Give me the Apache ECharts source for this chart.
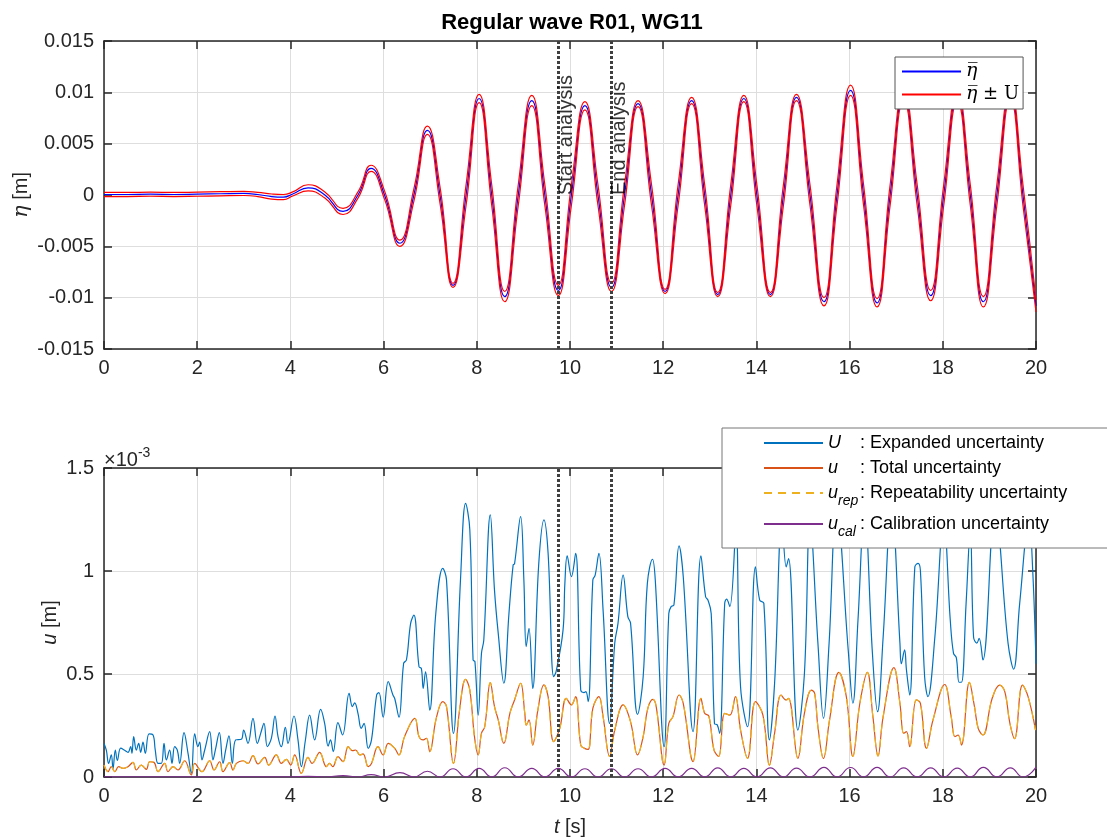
<!DOCTYPE html>
<html><head><meta charset="utf-8">
<script src="https://cdn.jsdelivr.net/npm/echarts/dist/echarts.min.js"></script>
<style>html,body{margin:0;padding:0;background:#fff}#c{width:1107px;height:840px}</style>
</head><body><div id="c"></div>
<script>
// ---------- DATA ----------
const titleText = 'Regular wave R01, WG11';
const xTicks = [0, 2, 4, 6, 8, 10, 12, 14, 16, 18, 20];
const analysisStart = 9.74;
const analysisEnd = 10.88;

// top panel: mean surface elevation [m] and half-width of the ±U band [m]
const etaTime = [0,0.5,1,1.5,2,2.5,3,3.3,3.6,3.85,4.05,4.38,4.74,5.13,5.45,5.73,6.02,6.35,6.65,6.94,7.21,7.49,7.77,8.05,8.32,8.60,8.89,9.18,9.46,9.75,10.03,10.32,10.60,10.89,11.17,11.46,11.75,12.04,12.32,12.61,12.89,13.17,13.45,13.73,14.01,14.30,14.58,14.86,15.15,15.45,15.73,16.02,16.30,16.59,16.87,17.16,17.45,17.74,18.02,18.31,18.59,18.87,19.16,19.45,19.72,20.0];
const etaMean = [0.00005,0.00005,0.00008,0.00005,0.00008,0.00012,0.00015,0.00005,-0.00015,-0.0002,0.0001,0.0007,0,-0.0016,0,0.0026,0,-0.0047,0,0.0063,0,-0.0088,0,0.0094,0,-0.0099,0,0.0092,0,-0.0093,0,0.0087,0,-0.0090,0,0.0089,0,-0.0094,0,0.0092,0,-0.0097,0,0.0094,0,-0.0097,0,0.0095,0,-0.0104,0,0.0102,0,-0.0105,0,0.0097,0,-0.0098,0,0.0096,0,-0.0104,0,0.0098,0,-0.0108];
const etaHalfBand = [0.0002,0.0002,0.0002,0.0002,0.0002,0.0002,0.0002,0.0002,0.00025,0.00025,0.0002,0.0003,0.0003,0.0003,0.0003,0.0003,0.0004,0.0003,0.0006,0.0004,0.0008,0.0002,0.001,0.0004,0.001,0.0005,0.001,0.0005,0.001,0.0005,0.001,0.0004,0.001,0.0004,0.001,0.0003,0.001,0.0002,0.001,0.0003,0.001,0.0002,0.001,0.0003,0.001,0.0002,0.001,0.0003,0.001,0.0004,0.001,0.0005,0.001,0.0004,0.001,0.0005,0.001,0.0005,0.001,0.0005,0.001,0.0005,0.001,0.0005,0.001,0.0006];

// bottom panel, values in units of 1e-3 m
const expTime = [0,0.05,0.10,0.157,0.193,0.243,0.286,0.358,0.443,0.515,0.572,0.60,0.637,0.694,0.744,0.787,0.837,0.887,0.966,1.052,1.10,1.159,1.23,1.288,1.338,1.409,1.459,1.516,1.574,1.624,1.717,1.803,1.874,1.946,2.017,2.053,2.103,2.16,2.268,2.339,2.389,2.475,2.554,2.611,2.682,2.754,2.825,2.947,2.997,3.09,3.197,3.29,3.362,3.433,3.505,3.591,3.67,3.734,3.805,3.891,3.948,4.077,4.163,4.235,4.32,4.413,4.52,4.649,4.735,4.81,4.86,4.92,5.02,5.12,5.26,5.33,5.38,5.45,5.52,5.58,5.67,5.74,5.85,5.90,5.99,6.10,6.20,6.24,6.33,6.43,6.49,6.58,6.65,6.76,6.81,6.85,6.90,6.99,7.12,7.27,7.35,7.50,7.65,7.76,7.85,7.92,7.96,8.03,8.10,8.15,8.29,8.38,8.46,8.58,8.69,8.78,8.81,8.94,9.01,9.06,9.12,9.20,9.33,9.44,9.53,9.65,9.70,9.85,9.89,9.94,10.03,10.12,10.23,10.30,10.34,10.39,10.49,10.54,10.62,10.71,10.85,10.96,11.03,11.14,11.24,11.30,11.45,11.57,11.66,11.77,11.83,12.02,12.12,12.17,12.23,12.34,12.43,12.64,12.81,12.91,12.96,13.03,13.10,13.16,13.21,13.32,13.36,13.43,13.56,13.66,13.81,13.98,14.07,14.16,14.28,14.39,14.55,14.64,14.69,14.89,15.03,15.15,15.32,15.44,15.56,15.72,15.97,16.07,16.18,16.32,16.49,16.60,16.72,16.90,17.08,17.11,17.18,17.22,17.29,17.40,17.47,17.52,17.61,17.68,17.83,18.02,18.16,18.23,18.29,18.35,18.40,18.50,18.59,18.66,18.73,18.78,18.86,19.12,19.40,19.52,19.65,19.85,19.93,20.0];
const expandedU = [0.163,0.13,0.066,0.107,0.04,0.13,0.08,0.14,0.13,0.12,0.147,0.115,0.196,0.13,0.163,0.12,0.17,0.115,0.209,0.204,0.13,0.066,0.066,0.163,0.083,0.13,0.066,0.147,0.13,0.066,0.215,0.115,0.018,0.209,0.147,0.17,0.083,0.13,0.22,0.083,0.13,0.215,0.066,0.13,0.20,0.066,0.18,0.183,0.228,0.163,0.285,0.163,0.212,0.26,0.147,0.188,0.296,0.196,0.147,0.241,0.163,0.296,0.18,0.05,0.176,0.30,0.18,0.328,0.26,0.15,0.18,0.123,0.264,0.204,0.406,0.342,0.36,0.309,0.236,0.26,0.139,0.18,0.398,0.41,0.29,0.463,0.398,0.38,0.29,0.552,0.568,0.746,0.786,0.535,0.527,0.43,0.51,0.325,0.794,1.013,0.957,0.212,0.957,1.328,1.2,0.568,0.56,0.30,0.60,0.665,1.272,0.906,0.697,0.455,0.794,1.03,1.035,1.264,0.957,0.633,0.722,0.43,1.037,1.248,1.086,0.487,0.51,0.712,0.94,1.073,0.973,1.086,0.422,0.41,0.414,0.366,0.956,0.98,1.086,0.81,0.26,0.649,0.746,0.98,0.78,0.746,0.304,0.487,0.94,1.057,0.956,0.147,0.794,0.827,0.835,1.122,0.973,0.22,1.073,0.875,0.859,0.794,0.26,0.253,0.212,0.843,0.863,0.827,1.2,0.438,0.244,1.02,0.859,0.843,0.18,0.454,1.25,1.02,1.06,0.228,0.5,1.25,0.65,0.285,0.65,1.32,0.617,0.358,0.762,1.3,0.6,0.317,0.68,1.32,0.65,0.55,0.617,0.52,0.398,1.02,1.037,1.0,0.487,0.39,0.68,1.25,0.762,0.6,0.58,0.46,0.46,0.843,1.2,0.68,0.65,0.673,0.568,1.3,0.65,0.523,0.843,1.25,1.0,0.55];

const totTime = [0,0.086,0.157,0.229,0.315,0.408,0.515,0.622,0.694,0.801,0.908,0.98,1.073,1.159,1.302,1.373,1.481,1.588,1.731,1.874,1.946,2.103,2.268,2.361,2.482,2.554,2.697,2.768,2.84,2.983,3.09,3.197,3.305,3.448,3.534,3.698,3.805,3.913,4.006,4.092,4.235,4.378,4.464,4.628,4.771,4.84,4.91,5.02,5.13,5.24,5.33,5.40,5.49,5.56,5.67,5.74,5.88,5.99,6.10,6.24,6.33,6.45,6.67,6.76,6.85,6.92,6.99,7.13,7.27,7.35,7.50,7.63,7.76,7.85,7.95,8.03,8.10,8.17,8.29,8.38,8.46,8.58,8.71,8.81,8.94,9.03,9.06,9.12,9.20,9.31,9.44,9.53,9.65,9.78,9.92,10.03,10.12,10.23,10.31,10.39,10.49,10.62,10.71,10.85,10.96,11.14,11.30,11.45,11.57,11.67,11.78,11.85,12.02,12.12,12.21,12.34,12.43,12.64,12.81,12.89,12.98,13.09,13.19,13.32,13.43,13.55,13.66,13.81,13.98,14.14,14.28,14.39,14.53,14.64,14.69,14.89,15.03,15.18,15.25,15.32,15.44,15.57,15.77,15.93,16.07,16.22,16.38,16.50,16.61,16.72,16.95,17.08,17.16,17.22,17.29,17.43,17.52,17.65,17.79,18.04,18.18,18.26,18.33,18.40,18.57,18.68,18.76,18.86,19.06,19.22,19.33,19.44,19.54,19.71,19.83,19.99];
const totalU = [0.058,0.026,0.05,0.026,0.05,0.042,0.05,0.071,0.034,0.058,0.037,0.074,0.071,0.026,0.066,0.026,0.05,0.034,0.079,0.01,0.066,0.026,0.079,0.034,0.074,0.026,0.07,0.034,0.066,0.079,0.066,0.104,0.063,0.095,0.058,0.107,0.066,0.086,0.058,0.107,0.018,0.095,0.066,0.12,0.05,0.066,0.05,0.099,0.075,0.147,0.128,0.131,0.107,0.112,0.05,0.066,0.147,0.107,0.163,0.139,0.107,0.196,0.285,0.196,0.18,0.188,0.123,0.285,0.366,0.342,0.066,0.325,0.474,0.422,0.196,0.107,0.212,0.244,0.458,0.342,0.277,0.163,0.309,0.374,0.455,0.309,0.252,0.277,0.155,0.325,0.447,0.39,0.172,0.236,0.382,0.35,0.39,0.155,0.139,0.134,0.333,0.39,0.293,0.1,0.228,0.35,0.268,0.107,0.196,0.333,0.377,0.342,0.058,0.26,0.293,0.398,0.358,0.075,0.382,0.309,0.296,0.131,0.1,0.309,0.3,0.39,0.228,0.091,0.366,0.3,0.058,0.212,0.398,0.374,0.382,0.091,0.309,0.422,0.406,0.244,0.09,0.277,0.508,0.39,0.1,0.358,0.508,0.293,0.102,0.293,0.531,0.358,0.212,0.22,0.147,0.374,0.358,0.139,0.277,0.449,0.293,0.196,0.204,0.155,0.459,0.342,0.236,0.204,0.382,0.446,0.414,0.26,0.186,0.446,0.39,0.228];
// repeatability uncertainty overlaps the total uncertainty everywhere in the picture
const repTime = totTime;
const repU = totalU;

const calTime = [0,4.0,4.38,4.74,5.13,5.45,5.73,6.02,6.35,6.65,6.94,7.21,7.49,7.77,8.05,8.32,8.60,8.89,9.18,9.46,9.75,10.03,10.32,10.60,10.89,11.17,11.46,11.75,12.04,12.32,12.61,12.89,13.17,13.45,13.73,14.01,14.30,14.58,14.86,15.15,15.45,15.73,16.02,16.30,16.59,16.87,17.16,17.45,17.74,18.02,18.31,18.59,18.87,19.16,19.45,19.72,20.0];
const calU = [0.001,0.001,0.003,0,0.007,0,0.012,0,0.021,0,0.028,0,0.04,0,0.042,0,0.045,0,0.042,0,0.042,0,0.04,0,0.04,0,0.04,0,0.042,0,0.042,0,0.044,0,0.042,0,0.044,0,0.043,0,0.047,0,0.046,0,0.047,0,0.044,0,0.044,0,0.043,0,0.047,0,0.044,0,0.048];

// ---------- CHART ----------
const FONT = "'Liberation Sans', Arial, Helvetica, sans-serif";
const SERIF = "'DejaVu Serif', 'Liberation Serif', serif";
const INK = '#262626';
const pairs = (t, v) => t.map((x, i) => [x, v[i]]);
const etaUpper = etaTime.map((x, i) => [x, etaMean[i] + etaHalfBand[i]]);
const etaLower = etaTime.map((x, i) => [x, etaMean[i] - etaHalfBand[i]]);

function xAx(gi, primary) {
  return {
    type: 'value', gridIndex: gi, min: 0, max: 20, interval: 2,
    position: primary ? 'bottom' : 'top',
    axisLine: { show: true, onZero: false, lineStyle: { color: INK, width: 1.5 } },
    axisTick: { show: true, inside: true, length: 8, lineStyle: { color: INK, width: 1.5 } },
    axisLabel: { show: primary, color: INK, fontSize: 20, fontFamily: FONT, margin: 9,
                 formatter: v => xTicks.includes(v) ? String(v) : '' },
    splitLine: { show: primary, lineStyle: { color: '#dedede', width: 1 } }
  };
}
function yAx(gi, primary, min, max, interval, fmt) {
  return {
    type: 'value', gridIndex: gi, min, max, interval,
    position: primary ? 'left' : 'right',
    axisLine: { show: true, onZero: false, lineStyle: { color: INK, width: 1.5 } },
    axisTick: { show: true, inside: true, length: 8, lineStyle: { color: INK, width: 1.5 } },
    axisLabel: { show: primary, color: INK, fontSize: 20, fontFamily: FONT, margin: 10, formatter: fmt },
    splitLine: { show: primary, lineStyle: { color: '#dedede', width: 1 } }
  };
}
const fmtEta = v => String(Math.round(v * 1000) / 1000);
const fmtU = v => String(Math.round(v * 10) / 10);

const xA = [xAx(0, true), xAx(0, false), xAx(1, true), xAx(1, false)];
xA[2].name = '{i|t} [s]';
xA[2].nameLocation = 'middle';
xA[2].nameGap = 40;
xA[2].nameMoveOverlap = false;
xA[2].nameTextStyle = { color: INK, fontSize: 20, fontFamily: FONT, rich: { i: { fontStyle: 'italic', fontSize: 20, fontFamily: FONT, color: INK } } };

const yA = [yAx(0, true, -0.015, 0.015, 0.005, fmtEta), yAx(0, false, -0.015, 0.015, 0.005),
            yAx(1, true, 0, 1.5, 0.5, fmtU), yAx(1, false, 0, 1.5, 0.5)];
yA[0].name = '{i|η} [m]';
yA[0].nameLocation = 'middle';
yA[0].nameGap = 72;
yA[0].nameMoveOverlap = false;
yA[0].nameTextStyle = { color: INK, fontSize: 20, fontFamily: FONT, rich: { i: { fontStyle: 'italic', fontSize: 21, fontFamily: SERIF, color: INK } } };
yA[2].name = '{i|u} [m]';
yA[2].nameLocation = 'middle';
yA[2].nameGap = 44;
yA[2].nameMoveOverlap = false;
yA[2].nameTextStyle = { color: INK, fontSize: 20, fontFamily: FONT, rich: { i: { fontStyle: 'italic', fontSize: 20, fontFamily: FONT, color: INK } } };

const dotted = {
  silent: true, symbol: ['none', 'none'], label: { show: false },
  lineStyle: { color: '#404040', width: 3, type: [3, 2] },
  data: [{ xAxis: analysisStart }, { xAxis: analysisEnd }]
};

const lineBase = { type: 'line', showSymbol: false, symbol: 'none', animation: false };

const series = [
  Object.assign({}, lineBase, { name: 'etaMean', xAxisIndex: 0, yAxisIndex: 0, smooth: 0.5,
    data: pairs(etaTime, etaMean), lineStyle: { color: '#0000ff', width: 1.2 }, itemStyle: { color: '#0000ff' } }),
  Object.assign({}, lineBase, { name: 'etaPM', xAxisIndex: 0, yAxisIndex: 0, smooth: 0.5,
    data: etaUpper, lineStyle: { color: '#ff0000', width: 1.2 }, itemStyle: { color: '#ff0000' } }),
  Object.assign({}, lineBase, { name: 'etaPM', xAxisIndex: 0, yAxisIndex: 0, smooth: 0.5,
    data: etaLower, lineStyle: { color: '#ff0000', width: 1.2 }, itemStyle: { color: '#ff0000' } }),
  { type: 'scatter', name: 'notes', xAxisIndex: 0, yAxisIndex: 0, symbolSize: 1, silent: true,
    itemStyle: { color: 'rgba(0,0,0,0)' }, animation: false,
    data: [[analysisStart, 0, 'Start analysis'], [analysisEnd, 0, 'End analysis']],
    label: { show: true, position: 'right', distance: 8, rotate: 90, formatter: p => p.data[2],
             color: '#000', fontSize: 20, fontFamily: FONT },
    markLine: dotted, z: 5 },

  Object.assign({}, lineBase, { name: 'U', xAxisIndex: 2, yAxisIndex: 2, smooth: 0.4,
    data: pairs(expTime, expandedU), lineStyle: { color: '#0072BD', width: 1.2 }, itemStyle: { color: '#0072BD' } }),
  Object.assign({}, lineBase, { name: 'u', xAxisIndex: 2, yAxisIndex: 2, smooth: 0.4,
    data: pairs(totTime, totalU), lineStyle: { color: '#D95319', width: 1.2 }, itemStyle: { color: '#D95319' } }),
  Object.assign({}, lineBase, { name: 'urep', xAxisIndex: 2, yAxisIndex: 2, smooth: 0.4,
    data: pairs(repTime, repU), lineStyle: { color: '#EDB120', width: 1.2, type: [8, 6] }, itemStyle: { color: '#EDB120' } }),
  Object.assign({}, lineBase, { name: 'ucal', xAxisIndex: 2, yAxisIndex: 2, smooth: 0.5,
    data: pairs(calTime, calU), lineStyle: { color: '#7E2F8E', width: 1.2 }, itemStyle: { color: '#7E2F8E' } }),
  { type: 'line', name: 'marks2', xAxisIndex: 2, yAxisIndex: 2, data: [], markLine: dotted, z: 5, animation: false }
];

const topLegendText = { etaMean: '{e|η\u0305}', etaPM: '{e|η\u0305}{s| ± U}' };
const botLegendText = {
  U: '{iw|U}{t|: Expanded uncertainty}',
  u: '{iw|u}{t|: Total uncertainty}',
  urep: '{i2|u}{sub|rep}{t2|: Repeatability uncertainty}',
  ucal: '{i2|u}{sub|cal}{t2|: Calibration uncertainty}'
};
const noSymbol = { opacity: 0, borderWidth: 0 };

const option = {
  animation: false,
  backgroundColor: '#ffffff',
  title: { text: titleText, left: 567, top: 7, textAlign: 'center',
           textStyle: { fontSize: 22, fontWeight: 'bold', fontFamily: FONT, color: '#000' } },
  grid: [
    { left: 104, right: 71, top: 41, height: 308, outerBoundsMode: 'none', containLabel: false },
    { left: 104, right: 71, top: 468, height: 309, outerBoundsMode: 'none', containLabel: false }
  ],
  xAxis: xA,
  yAxis: yA,
  legend: [
    { data: ['etaMean', 'etaPM'], left: 895, top: 57, orient: 'vertical',
      padding: [4, 4, 4, 6], itemGap: 2, itemWidth: 59, itemHeight: 14,
      backgroundColor: '#fff', borderColor: '#555', borderWidth: 1, selectedMode: false,
      itemStyle: noSymbol,
      formatter: n => topLegendText[n],
      textStyle: { fontSize: 18, fontFamily: SERIF, color: '#000', lineHeight: 21,
        rich: { e: { fontSize: 19, fontStyle: 'italic', fontFamily: SERIF, color: '#000', lineHeight: 21 },
                s: { fontSize: 18, fontFamily: SERIF, color: '#000', lineHeight: 21 } } } },
    { data: ['U', 'u', 'urep', 'ucal'], left: 722, top: 428, orient: 'vertical',
      padding: [6, 80, 9, 41], itemGap: 7, itemWidth: 59, itemHeight: 14,
      backgroundColor: '#fff', borderColor: '#777', borderWidth: 1, selectedMode: false,
      itemStyle: noSymbol,
      formatter: n => botLegendText[n],
      textStyle: { fontSize: 18, fontFamily: FONT, color: '#000',
        rich: {
          iw: { fontSize: 18, fontStyle: 'italic', fontFamily: FONT, color: '#000', width: 32, lineHeight: 22 },
          t: { fontSize: 18, fontFamily: FONT, color: '#000', lineHeight: 22 },
          i2: { fontSize: 18, fontStyle: 'italic', fontFamily: FONT, color: '#000', lineHeight: 30 },
          sub: { fontSize: 14, fontStyle: 'italic', fontFamily: FONT, color: '#000', lineHeight: 14, verticalAlign: 'bottom', width: 22 },
          t2: { fontSize: 18, fontFamily: FONT, color: '#000', lineHeight: 30 }
        } } }
  ],
  graphic: [
    { type: 'text', left: 104, top: 446, z: 10,
      style: { text: '{a|×10}{b|-3}', fill: INK, font: '20px ' + FONT,
        rich: { a: { fontSize: 20, fontFamily: FONT, fill: INK, lineHeight: 24, verticalAlign: 'bottom' },
                b: { fontSize: 14, fontFamily: FONT, fill: INK, lineHeight: 14, verticalAlign: 'top' } } } }
  ],
  series
};

const chart = echarts.init(document.getElementById('c'), null, { renderer: 'canvas' });
chart.setOption(option);
</script></body></html>
